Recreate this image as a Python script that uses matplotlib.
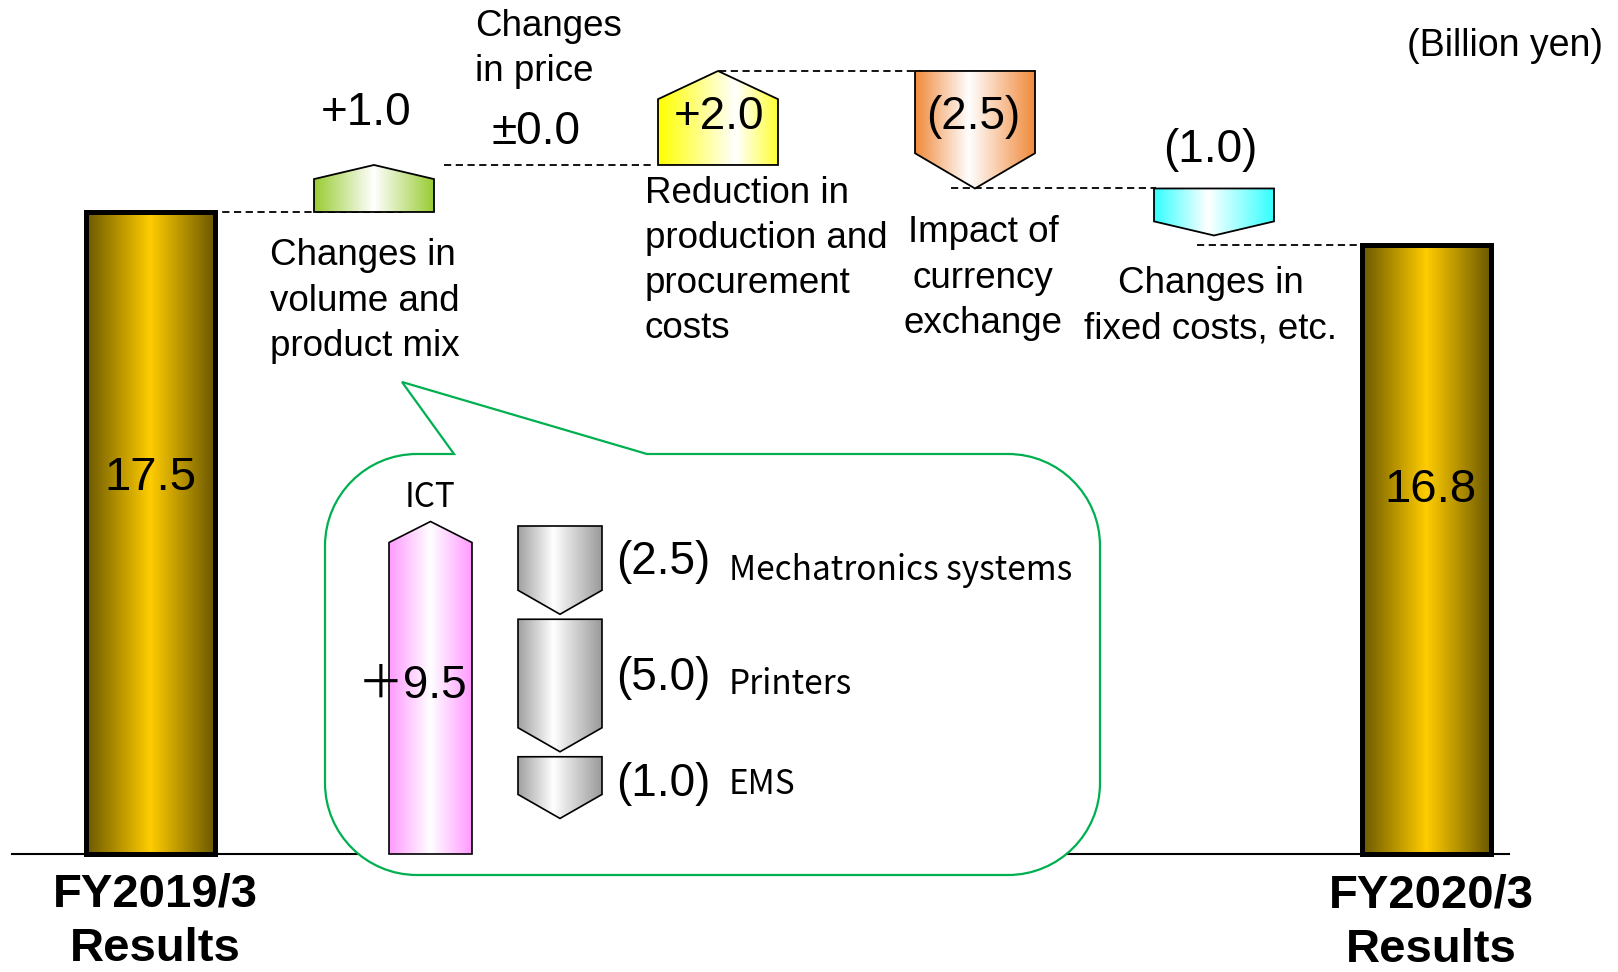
import numpy as np
import matplotlib
matplotlib.use("Agg")
import matplotlib.pyplot as plt
from matplotlib.colors import LinearSegmentedColormap
from matplotlib.patches import Polygon, PathPatch
from matplotlib.path import Path

# ---- data (billion yen) ----
start_label = "FY2019/3\nResults"
end_label = "FY2020/3\nResults"
start_value = 17.5
end_value = 16.8

step_names = ["Changes in\nvolume and\nproduct mix",
              "Changes\nin price",
              "Reduction in\nproduction and\nprocurement\ncosts",
              "Impact of\ncurrency\nexchange",
              "Changes in\nfixed costs, etc."]
step_values = [1.0, 0.0, 2.0, -2.5, -1.0]

seg_names = ["ICT", "Mechatronics systems", "Printers", "EMS"]
seg_values = [9.5, -2.5, -5.0, -1.0]

# ---- layout (pixels) ----
bar_x = [150.5, 1427]
bar_w = 129
base_level = 3.85
step_x = [374, 549, 718, 975, 1214]
step_w = 120
val_pos = [(366, 113), (536, 132), (719, 117), (973, 117), (1210, 150)]
name_pos = [(270, 301, "left"), (475, 49, "left"), (645, 261, "left"),
            (983, 278, "center"), (1211, 306, "center")]
conn_x = [(187, 402), (444, 655), (719, 922), (951, 1156), (1197, 1362)]

gold = [(0, "#6B5800"), (0.5, "#FFCC00"), (1, "#6B5800")]
step_cols = [[(0, "#99CC33"), (0.5, "#FFFFFF"), (1, "#99CC33")],
             None,
             [(0, "#FFFF00"), (0.65, "#FFFFFF"), (1, "#FFFF33")],
             [(0, "#F08A3C"), (0.45, "#FFFFFF"), (1, "#F08A3C")],
             [(0, "#33FFFF"), (0.45, "#FFFFFF"), (1, "#33FFFF")]]
pink = [(0, "#FF99FF"), (0.5, "#FFFFFF"), (1, "#FF99FF")]
gray = [(0, "#A0A0A0"), (0.42, "#FFFFFF"), (1, "#9A9A9A")]

MAIN = "Liberation Sans"
JP = ["Noto Sans CJK JP", "DejaVu Sans"]


def fmt(v):
    if v > 0:
        return "+%.1f" % v
    if v < 0:
        return "(%.1f)" % -v
    return "\u00b10.0"


def grad(axis, patch, colors, extent, z):
    axis.add_patch(patch)
    patch.set_zorder(z + 0.1)
    cm = LinearSegmentedColormap.from_list("g", colors)
    im = axis.imshow(np.linspace(0, 1, 256)[None, :], cmap=cm, extent=extent,
                     aspect="auto", zorder=z, interpolation="bilinear")
    im.set_clip_path(patch)


def arrow_verts(x0, x1, s, e, head):
    # head is measured back from the tip towards the start
    xc = (x0 + x1) / 2
    sh = e - head if e > s else e + head
    return [(x0, s), (x1, s), (x1, sh), (xc, e), (x0, sh)]


fig = plt.figure(figsize=(16.18, 9.72), dpi=100)
ax = fig.add_axes([0, 0, 1, 1])
ov = fig.add_axes([0, 0, 1, 1])
ov.patch.set_alpha(0)
ymin, ymax = 1.33, 22.01

# baseline
ax.plot([12, 1509], [base_level, base_level], color="black", lw=1.5, zorder=1)

# start / end bars
bars = ax.bar(bar_x, [start_value - base_level, end_value - base_level],
              bottom=base_level, width=bar_w, facecolor="none",
              edgecolor="black", linewidth=3.5)
for b in bars:
    x0 = b.get_x()
    grad(ax, b, gold, (x0, x0 + b.get_width(), b.get_y(), b.get_y() + b.get_height()), 3)
ov.text(150, 478, "%.1f" % start_value, fontsize=34, family=MAIN, ha="center", va="center")
ov.text(1430, 490, "%.1f" % end_value, fontsize=34, family=MAIN, ha="center", va="center")
ov.text(155, 922, start_label, fontsize=34, family=MAIN, weight="bold",
        ha="center", va="center", linespacing=1.3)
ov.text(1431, 923, end_label, fontsize=34, family=MAIN, weight="bold",
        ha="center", va="center", linespacing=1.3)

# steps
level = start_value
levels = [start_value]
for i, v in enumerate(step_values):
    s, e = level, level + v
    if v != 0:
        head = abs(e - s) * 0.3
        x0, x1 = step_x[i] - step_w / 2, step_x[i] + step_w / 2
        poly = Polygon(arrow_verts(x0, x1, s, e, head), closed=True,
                       facecolor="none", edgecolor="black", linewidth=1.3)
        grad(ax, poly, step_cols[i], (x0, x1, min(s, e), max(s, e)), 4)
        levels.append(e)
    level = e
    vx, vy = val_pos[i]
    ov.text(vx, vy, fmt(v), fontsize=33, family=MAIN, ha="center", va="center", zorder=6)
    nx, ny, al = name_pos[i]
    ov.text(nx, ny, step_names[i], fontsize=26.5, family=MAIN, ha=al, va="center",
            multialignment=al, linespacing=1.38)
levels = levels[:-1] + [end_value]

for (xa, xb), lv in zip(conn_x, levels):
    ax.plot([xa, xb], [lv, lv], color="black", lw=1.3, ls=(0, (4, 2.5)), zorder=2)

ov.text(1603, 46, "(Billion yen)", fontsize=27, family=MAIN, ha="right", va="center")

# callout
cx0, cx1, cy0, cy1, r = 325, 1100, 454, 875, 92
k = 0.5523 * r
verts = [(454, cy0), (402, 382), (647, cy0), (cx1 - r, cy0),
         (cx1 - r + k, cy0), (cx1, cy0 + r - k), (cx1, cy0 + r),
         (cx1, cy1 - r),
         (cx1, cy1 - r + k), (cx1 - r + k, cy1), (cx1 - r, cy1),
         (cx0 + r, cy1),
         (cx0 + r - k, cy1), (cx0, cy1 - r + k), (cx0, cy1 - r),
         (cx0, cy0 + r),
         (cx0, cy0 + r - k), (cx0 + r - k, cy0), (cx0 + r, cy0),
         (454, cy0)]
codes = [Path.MOVETO, Path.LINETO, Path.LINETO, Path.LINETO,
         Path.CURVE4, Path.CURVE4, Path.CURVE4, Path.LINETO,
         Path.CURVE4, Path.CURVE4, Path.CURVE4, Path.LINETO,
         Path.CURVE4, Path.CURVE4, Path.CURVE4, Path.LINETO,
         Path.CURVE4, Path.CURVE4, Path.CURVE4, Path.CLOSEPOLY]
ov.add_patch(PathPatch(Path(verts, codes), facecolor="white", edgecolor="#00B050",
                       linewidth=1.6, zorder=1))

# inset: ICT up arrow (pixel axis, y grows downward)
ict_x0, ict_x1, ict_bottom = 389, 472, 854
ict_top = ict_bottom - 35 * seg_values[0]
p = Polygon(arrow_verts(ict_x0, ict_x1, ict_bottom, ict_top, 21), closed=True,
            facecolor="none", edgecolor="black", linewidth=1.2)
grad(ov, p, pink, (ict_x0, ict_x1, ict_bottom, ict_top), 2)
ov.text(430, 497, seg_names[0], fontsize=24, family=JP, ha="center", va="center")
ov.text(413, 686, "\uff0b%.1f" % seg_values[0], fontsize=33,
        family=[MAIN, "Noto Sans CJK JP"], ha="center", va="center", zorder=6)

# inset: down arrows
gx0, gx1 = 518, 602
top = 526
lab_y = [(562, 570), (678, 684), (784, 784)]
for name, v, (ly1, ly2) in zip(seg_names[1:], seg_values[1:], lab_y):
    h = 44 + 17.7 * abs(v)
    bot = top + h
    p = Polygon(arrow_verts(gx0, gx1, top, bot, 24), closed=True,
                facecolor="none", edgecolor="black", linewidth=1.2)
    grad(ov, p, gray, (gx0, gx1, bot, top), 2)
    ov.text(616, ly1, fmt(v), fontsize=33, family=MAIN, ha="left", va="center")
    ov.text(729, ly2, name, fontsize=24, family=JP, ha="left", va="center")
    top = bot + 5

ax.set_xlim(0, 1618)
ax.set_ylim(ymin, ymax)
ax.axis("off")
ov.set_xlim(0, 1618)
ov.set_ylim(972, 0)
ov.axis("off")

fig.savefig("out.png", dpi=100)
